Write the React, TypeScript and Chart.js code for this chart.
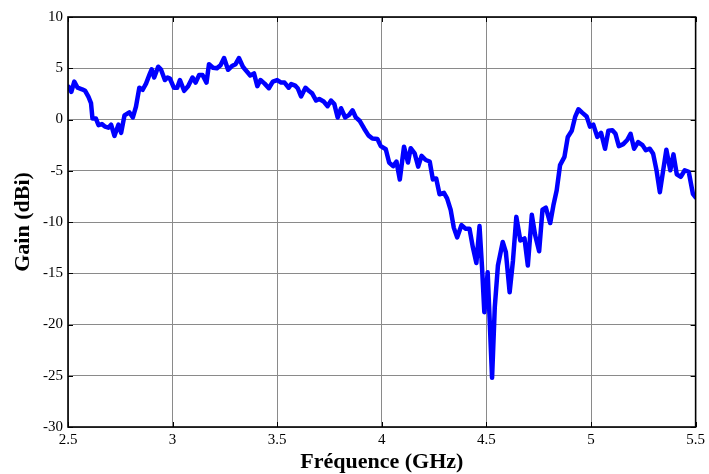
import React, { useEffect, useRef } from "react";
import { Chart, registerables } from "chart.js";

Chart.register(...registerables);

const freqGHz: number[] = [
  2.5, 2.503, 2.516, 2.53, 2.546, 2.567, 2.582, 2.598, 2.61, 2.617, 2.633, 2.646, 2.662, 2.678, 2.693,
  2.706, 2.722, 2.741, 2.754, 2.77, 2.793, 2.81, 2.825, 2.841, 2.857, 2.873, 2.889, 2.9,
  2.912, 2.931, 2.944, 2.963, 2.976, 2.987, 3.006, 3.022, 3.035, 3.055, 3.074, 3.095,
  3.11, 3.127, 3.143, 3.162, 3.174, 3.193, 3.212, 3.229, 3.246, 3.265, 3.286, 3.301,
  3.317, 3.336, 3.352, 3.371, 3.389, 3.405, 3.42, 3.44, 3.46, 3.479, 3.5, 3.519,
  3.535, 3.555, 3.567, 3.586, 3.598, 3.614, 3.635, 3.654, 3.667, 3.686, 3.701, 3.722,
  3.741, 3.757, 3.773, 3.789, 3.805, 3.825, 3.844, 3.86, 3.876, 3.895, 3.916, 3.936,
  3.955, 3.979, 3.995, 4.019, 4.035, 4.054, 4.07, 4.086, 4.106, 4.125, 4.138, 4.157,
  4.174, 4.19, 4.21, 4.229, 4.244, 4.26, 4.276, 4.297, 4.312, 4.329, 4.344, 4.36,
  4.381, 4.4, 4.419, 4.435, 4.452, 4.467, 4.479, 4.49, 4.506, 4.527, 4.54, 4.555,
  4.578, 4.593, 4.611, 4.627, 4.643, 4.662, 4.682, 4.698, 4.717, 4.733, 4.752, 4.768,
  4.784, 4.805, 4.82, 4.836, 4.852, 4.873, 4.889, 4.908, 4.924, 4.94, 4.959, 4.979,
  4.995, 5.011, 5.03, 5.048, 5.067, 5.083, 5.102, 5.117, 5.133, 5.154, 5.173, 5.189,
  5.206, 5.225, 5.246, 5.262, 5.281, 5.297, 5.313, 5.329, 5.345, 5.36, 5.379, 5.394,
  5.41, 5.429, 5.448, 5.467, 5.487, 5.5,
];

const gainDBi: number[] = [
  3.0, 3.2, 2.7, 3.7, 3.1, 2.95, 2.8, 2.2, 1.6, 0.1, 0.1, -0.55, -0.45, -0.7, -0.8,
  -0.5, -1.6, -0.5, -1.3, 0.4, 0.7, 0.2, 1.25, 3.1, 2.9, 3.5, 4.35, 4.9,
  4.1, 5.15, 4.9, 3.85, 4.1, 4.0, 3.1, 3.1, 3.85, 2.8, 3.25, 4.1,
  3.6, 4.35, 4.35, 3.6, 5.4, 5.05, 5.0, 5.3, 6.0, 4.85, 5.25, 5.4,
  6.0, 5.15, 4.75, 4.3, 4.5, 3.25, 3.85, 3.5, 3.05, 3.7, 3.85, 3.6,
  3.6, 3.1, 3.45, 3.3, 3.05, 2.25, 3.1, 2.75, 2.55, 1.85, 2.0, 1.75,
  1.3, 1.85, 1.5, 0.2, 1.1, 0.2, 0.45, 0.9, 0.2, -0.15, -0.9, -1.55,
  -1.85, -1.9, -2.6, -2.9, -4.2, -4.55, -4.1, -5.85, -2.65, -4.2, -2.8, -3.3,
  -4.6, -3.55, -3.95, -4.1, -5.85, -5.75, -7.3, -7.15, -7.7, -8.8, -10.55, -11.5,
  -10.3, -10.65, -10.65, -12.45, -14.0, -10.4, -14.4, -18.8, -14.9, -25.2, -18.3, -14.25,
  -11.95, -12.95, -16.85, -13.75, -9.5, -11.8, -11.6, -14.25, -9.3, -11.3, -12.85, -8.8,
  -8.6, -10.1, -8.4, -6.9, -4.45, -3.65, -1.7, -1.1, 0.25, 1.0, 0.65, 0.3,
  -0.7, -0.5, -1.7, -1.3, -2.85, -1.1, -1.05, -1.4, -2.6, -2.4, -2.0, -1.4,
  -2.85, -2.2, -2.5, -3.0, -2.85, -3.35, -4.95, -7.1, -4.95, -2.95, -4.95, -3.4,
  -5.35, -5.6, -4.95, -5.1, -7.25, -7.6,
];

const xTicks: number[] = [2.5, 3, 3.5, 4, 4.5, 5, 5.5];
const yTicks: number[] = [-30, -25, -20, -15, -10, -5, 0, 5, 10];
const xTitle = "Fréquence (GHz)";
const yTitle = "Gain (dBi)";

const FONT = "'Liberation Serif', 'Times New Roman', serif";

const boxPlugin = {
  id: "boxPlugin",
  afterDraw(chart: any) {
    const { ctx, chartArea } = chart;
    const { left, right, top, bottom } = chartArea;
    const xs = chart.scales.x;
    const ys = chart.scales.y;
    ctx.save();
    ctx.strokeStyle = "#000";
    ctx.lineWidth = 1;
    ctx.beginPath();
    const tl = 5;
    xTicks.forEach((v) => {
      const px = Math.round(xs.getPixelForValue(v)) + 0.5;
      ctx.moveTo(px, bottom);
      ctx.lineTo(px, bottom - tl);
      ctx.moveTo(px, top);
      ctx.lineTo(px, top + tl);
    });
    yTicks.forEach((v) => {
      const py = Math.round(ys.getPixelForValue(v)) + 0.5;
      ctx.moveTo(left, py);
      ctx.lineTo(left + tl, py);
      ctx.moveTo(right, py);
      ctx.lineTo(right - tl, py);
    });
    ctx.stroke();
    ctx.lineWidth = 1.6;
    ctx.strokeRect(left, top, right - left, bottom - top);
    ctx.restore();
  },
};

export default function App() {
  const ref = useRef<HTMLCanvasElement | null>(null);
  useEffect(() => {
    document.body.style.margin = "0";
    if (!ref.current) return;
    const points = freqGHz.map((f, i) => ({ x: f, y: gainDBi[i] }));
    const chart = new Chart(ref.current, {
      type: "line",
      data: {
        datasets: [
          {
            data: points,
            borderColor: "#0000FF",
            borderWidth: 4.5,
            pointRadius: 0,
            tension: 0,
            fill: false,
            borderJoinStyle: "round",
            borderCapStyle: "round",
          },
        ],
      },
      options: {
        animation: false,
        responsive: false,
        maintainAspectRatio: false,
        layout: { padding: { top: 17, right: 12, left: 0, bottom: 0 } },
        plugins: { legend: { display: false }, tooltip: { enabled: false } },
        scales: {
          x: {
            type: "linear",
            min: 2.5,
            max: 5.5,
            afterBuildTicks: (s: any) => {
              s.ticks = xTicks.map((v) => ({ value: v }));
            },
            afterFit: (s: any) => {
              s.height = 47;
            },
            grid: { color: "#8a8a8a", lineWidth: 1, drawTicks: false },
            border: { display: false },
            ticks: {
              color: "#000",
              font: { family: FONT, size: 15 },
              padding: 4,
              maxRotation: 0,
              callback: (v: any) => String(v),
            },
            title: {
              display: true,
              text: xTitle,
              color: "#000",
              font: { family: FONT, size: 22, weight: "bold", lineHeight: 1.1 },
              padding: { top: 0, bottom: 0 },
            },
          },
          y: {
            type: "linear",
            min: -30,
            max: 10,
            afterBuildTicks: (s: any) => {
              s.ticks = yTicks.map((v) => ({ value: v }));
            },
            afterFit: (s: any) => {
              s.width = 68;
            },
            grid: { color: "#8a8a8a", lineWidth: 1, drawTicks: false },
            border: { display: false },
            ticks: {
              color: "#000",
              font: { family: FONT, size: 15 },
              padding: 5,
              callback: (v: any) => String(v),
            },
            title: {
              display: true,
              text: yTitle,
              color: "#000",
              font: { family: FONT, size: 22, weight: "bold", lineHeight: 1.1 },
              padding: { top: 11, bottom: 0 },
            },
          },
        },
      },
      plugins: [boxPlugin],
    });
    return () => chart.destroy();
  }, []);
  return <canvas ref={ref} width={709} height={474} style={{ display: "block" }} />;
}
